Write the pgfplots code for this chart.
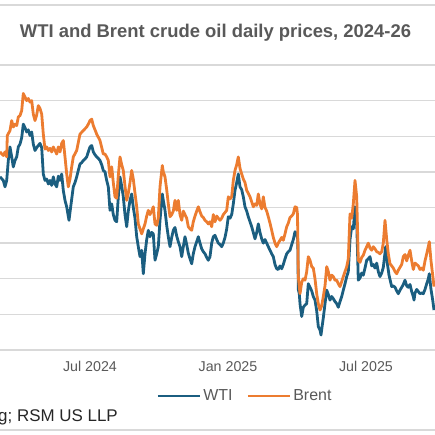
\documentclass[border=0pt]{standalone}
\usepackage{fontspec}
\setmainfont{Liberation Sans}
\usepackage{pgfplots}
\usepackage{pgfplotstable}
\pgfplotsset{compat=1.18}
\definecolor{wti}{HTML}{1B5E80}
\definecolor{brent}{HTML}{EC7C30}
\definecolor{gridc}{HTML}{D9D9D9}
\definecolor{txt}{HTML}{595959}

\pgfplotstableread{
x y
0 79.3
3.3 78.8
5 77.9
6.7 78.8
8.3 81.6
10 83.5
11.7 82.1
13.3 80.7
15 81.6
16.7 82.1
18.3 83.5
20 83.9
21.7 84.8
23.3 86.7
25 86.2
26.7 85.6
28.3 85.9
30 85.1
31.7 85.6
33.3 83.9
35 83.0
36.7 83.4
38.3 83.7
40 84.0
41.7 83.4
43.3 79.7
45 78.8
46.7 79.0
48.3 78.3
50 78.8
51.7 78.1
53.3 79.3
55 78.3
56.7 77.9
58.3 79.4
60 78.8
61.7 79.7
63.3 77.4
65 76.0
66.7 75.1
68 74.0
69 73.2
70.7 75.1
72 76.5
73.3 77.9
75 78.5
76.7 79.3
78.3 80.2
80 81.1
81.7 81.3
83.3 81.6
85 81.8
86.7 82.1
88.3 82.8
90 83.5
91.7 83.7
93.3 82.8
95 82.4
96.7 82.1
98.3 81.9
100 81.6
101.7 81.0
103.3 80.2
105 80.0
106.7 78.8
108.3 77.9
110 74.6
111.7 75.5
113.3 74.0
115 73.2
116.7 73.0
118.3 76.5
120 79.3
121.7 78.0
123.3 76.5
125 74.0
126.7 72.3
128.3 74.5
130 76.0
131.7 76.9
133.3 75.0
135 73.5
136.7 70.9
138.3 69.5
140 68.1
141.7 69.0
143.3 65.7
145 68.5
146.7 70.5
148.3 71.8
150 70.9
151.7 71.5
153.3 71.3
155 67.6
156.7 68.5
158.3 69.5
160 73.2
162.3 76.9
163.3 76.0
165 74.6
166.7 72.5
168.3 70.9
170 69.5
171.7 70.8
173.3 71.8
175 72.2
176.7 71.0
178.3 70.2
180 69.5
181.7 68.1
183.3 69.5
185 70.9
186.7 69.8
188.3 68.6
190 67.8
191.7 67.1
193.3 68.5
195 69.5
196.7 70.2
198.3 70.9
200 70.0
201.7 69.2
203.3 68.8
205 68.5
206.7 68.0
208.3 67.6
210 68.1
211.7 70.0
213.3 70.9
215 71.1
216.7 70.5
218.3 70.0
220 69.8
221.7 69.5
223.3 70.0
225 70.8
226.7 72.0
228.3 73.7
230 73.5
231.7 74.0
233.3 75.5
235 77.4
236.7 78.5
238.3 79.7
240 77.9
241.7 77.5
243.3 76.5
245 75.1
246.7 74.5
248.3 73.7
250 73.0
251.7 72.3
253.3 71.5
255 70.6
256.7 71.5
258.3 72.7
260 71.5
261.7 70.6
263.3 70.0
265 70.5
266.7 70.0
268.3 69.5
270 69.0
271.7 68.5
273.3 68.1
275 67.0
276.7 66.4
278.3 66.3
280 66.8
281.7 66.4
283.3 67.0
285 67.8
286.7 68.5
288.3 68.8
290 69.0
291.7 69.8
293.3 70.5
295 71.6
296.7 71.3
297.8 70.5
298.3 63.5
299.3 62.9
300 61.5
301.7 59.7
303.3 61.0
305 61.3
306.7 61.5
308.3 64.3
310 63.8
311.7 63.3
313.3 62.5
315 62.0
316.7 60.5
318.3 58.3
320 57.8
321 57.1
322.3 58.5
323.3 59.5
325 61.5
326.7 63.4
328.3 62.8
330 62.0
331.7 62.5
333.3 62.2
335 61.8
336.7 61.5
338.3 61.0
340 61.8
341.7 62.5
343.3 63.4
345 64.3
346.7 65.3
348.3 66.0
350 70.5
351.7 72.3
353.3 72.0
355 75.1
356.7 73.0
358.3 64.8
360 65.1
361.7 65.8
363.3 65.5
365 66.5
366.7 67.6
368.3 67.8
370 68.1
371.7 66.8
373.3 67.0
375 66.5
376.7 67.2
378.3 66.0
380 65.3
381.7 65.8
383.3 66.6
385.7 69.5
387.5 67.0
389 65.5
391.7 63.9
393.3 64.0
395 63.8
396.7 63.3
398.3 62.9
400 63.4
401.7 63.8
403.3 64.2
405 64.8
406.7 64.0
408.3 63.8
410 64.2
411.7 63.2
413.3 62.5
414 62.0
415 63.0
416.7 63.5
418.3 63.2
420 62.9
421.7 63.0
423.3 62.9
425 63.5
426.7 64.3
428.3 65.0
429.3 65.7
431 63.5
432.7 62.0
434 60.6
}\wti

\pgfplotstableread{
x y
0 82.8
3.3 82.3
5 82.8
6.7 82.1
7.3 85.1
10 85.8
11.7 87.2
13.3 86.3
15 86.7
16.7 86.5
18.3 87.7
20 87.9
21.7 88.6
23.3 91.0
25 90.5
26.7 90.0
28.3 90.3
30 89.8
31.7 90.0
33.3 88.1
35 87.2
36.7 88.0
38.3 89.3
40 88.9
41.7 88.1
43.3 85.3
45 83.2
46.7 83.5
48.3 83.0
50 83.3
51.7 82.8
53.3 83.5
55 83.0
56.7 82.5
58.3 83.5
60 82.8
61.7 84.0
63.3 84.4
65 82.1
66.7 79.7
68.3 77.9
70 79.0
71.7 80.7
73.3 82.1
76.7 83.0
80 85.3
83.3 85.8
86.7 86.3
88.3 86.7
90 87.2
91.7 87.4
93.3 86.5
96.7 85.3
100 84.4
103.3 82.5
105 82.5
106.7 82.1
108.3 81.6
110 79.3
111.7 80.7
113.3 78.5
115 76.5
116.7 76.3
118.3 79.5
120 82.1
121.7 81.0
123.3 80.2
125 78.0
126.7 76.0
128.3 77.0
130 78.5
131.7 80.2
133.3 79.0
135 77.0
136.7 75.1
138.3 72.7
140 72.0
141.7 71.3
143.3 72.0
145 72.7
146.7 73.8
148.3 74.6
150 74.0
151.7 74.5
153.3 75.1
155 72.7
156.7 72.5
158.3 73.5
160 77.9
162.3 80.9
163.3 80.0
165 79.3
166.7 77.5
168.3 75.5
170 73.7
171.7 74.0
173.3 74.5
175 76.0
176.7 74.6
178.3 76.0
180 74.0
181.7 73.2
183.3 74.5
185 74.0
186.7 73.5
188.3 72.3
190 72.0
191.7 71.8
193.3 73.0
195 73.8
196.7 74.5
198.3 75.1
200 74.4
201.7 73.8
203.3 73.6
205 73.2
206.7 73.0
208.3 72.7
210 73.0
211.7 72.3
213.3 74.0
215 73.0
216.7 73.8
218.3 73.5
220 73.2
221.7 73.5
223.3 74.0
226.7 74.6
228.3 76.5
230 76.2
231.7 76.5
233.3 78.8
235 80.2
236.7 81.0
238.3 82.1
240 80.5
241.7 79.7
243.3 79.0
245 78.5
246.7 77.4
248.3 77.0
250 76.5
251.7 75.8
253.3 75.1
255 75.5
256.7 75.3
258.3 76.9
260 75.5
261.7 74.8
263.3 76.5
265 75.0
266.7 74.5
268.3 73.7
270 72.8
271.7 71.8
273.3 70.8
275 70.0
276.7 69.5
278.3 70.0
280 70.4
281.7 70.8
283.3 70.4
285 71.3
286.7 72.3
288.3 72.8
290 73.6
291.7 73.8
293.3 74.1
295 75.1
296.7 75.0
297.5 74.0
298.3 65.3
300 62.9
301.7 64.5
303.3 65.0
305 64.8
306.7 66.0
308.3 68.1
310 67.6
311.7 66.7
313.3 66.5
315 65.0
316.7 62.9
318.3 61.5
320 60.6
321.7 61.2
323.3 62.5
325 64.0
326.7 66.7
328.3 66.0
330 64.8
331.7 65.5
333.3 65.3
335 64.8
336.7 64.8
338.3 64.3
340 63.9
341.7 64.6
343.3 65.3
345 66.0
346.7 66.7
348.3 67.8
350 74.1
351.7 73.5
353.3 75.5
355 78.8
356.7 76.5
358.3 67.6
360 67.3
361.7 68.0
363.3 68.3
365 69.0
366.7 69.5
368.3 70.0
370 69.3
371.7 69.0
373.3 69.5
375 69.2
376.7 68.8
378.3 68.7
380 68.5
381.7 68.8
383.3 70.0
385 73.2
386.7 70.5
388.3 68.5
390 67.1
391.7 66.8
393.3 66.5
395 66.0
396.7 65.7
398.3 66.2
400 66.6
401.7 67.0
403.3 68.1
405 68.4
406.7 67.5
408.3 68.3
410 69.0
411.7 67.5
413.3 66.3
415 67.2
416.7 67.0
418.3 66.8
420 66.3
421.7 66.5
423.3 66.2
425 67.5
426.7 68.5
428.3 69.5
429.3 70.2
431 67.5
432.7 65.5
434 63.9
}\brent

\begin{document}
\begin{tikzpicture}
\path[use as bounding box] (0bp,0bp) rectangle (435bp,435bp);
\clip (0bp,0bp) rectangle (435bp,435bp);
\draw[gridc, line width=1.3bp] (0bp,430bp) -- (435bp,430bp);
\draw[gridc, line width=1.3bp] (0bp,5bp) -- (435bp,5bp);
\node[anchor=base, font=\fontsize{18.5}{22}\selectfont\bfseries, text=txt, inner sep=0pt] at (215.5bp,397.5bp) {WTI and Brent crude oil daily prices, 2024-26};
\node[anchor=base east, font=\fontsize{17}{20}\selectfont, text=black!85, inner sep=0pt] at (118bp,13.3bp) {Source: Bloomberg; RSM US LLP};
\begin{axis}[
  at={(0bp,85bp)}, anchor=south west,
  scale only axis, width=435bp, height=285bp,
  xmin=0, xmax=435, ymin=55, ymax=95,
  axis line style={draw=none},
  tick style={draw=none},
  ytick={55,60,...,95}, yticklabels={},
  ymajorgrids,
  major grid style={gridc, line width=1.3bp},
  xtick={90,228,366},
  xticklabels={Jul 2024, Jan 2025, Jul 2025},
  xticklabel style={font=\fontsize{14.3}{17}\selectfont, text=txt, anchor=north, yshift=-11bp, inner sep=0pt},
  legend columns=2,
  legend style={at={(0.5632,-0.1614)}, anchor=center, draw=none, fill=none,
    font=\fontsize{16}{19}\selectfont, text=txt,
    /tikz/every even column/.append style={column sep=12bp}},
  legend image code/.code={\draw[#1] (0bp,0bp) -- (42bp,0bp);},
]
\addplot[wti, line width=2.8bp, line join=round] table[x=x, y=y] {\wti};
\addlegendentry{WTI}
\addplot[brent, line width=2.8bp, line join=round] table[x=x, y=y] {\brent};
\addlegendentry{Brent}
\end{axis}
\end{tikzpicture}
\end{document}
